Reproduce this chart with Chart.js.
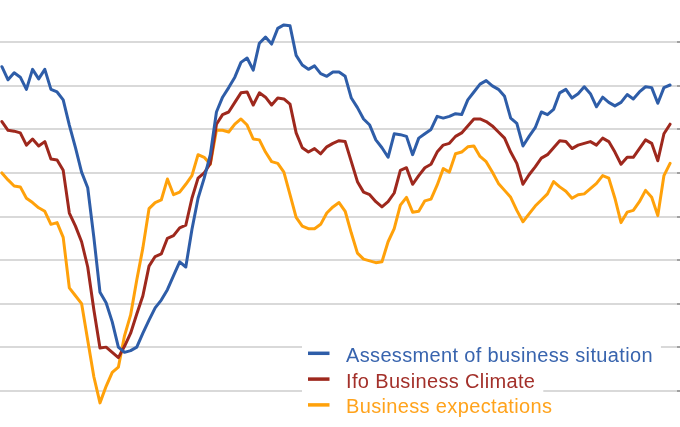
<!DOCTYPE html>
<html>
<head>
<meta charset="utf-8">
<script src="https://cdn.jsdelivr.net/npm/chart.js@4.4.1/dist/chart.umd.min.js"></script>
<style>
  html, body { margin: 0; padding: 0; background: #fff; }
  #wrap { width: 680px; height: 427px; position: relative; }
</style>
</head>
<body>
<div id="wrap"><canvas id="c"></canvas></div>
<script>
// Monthly categories, Aug 2007 .. Sep 2016
const months = [];
(function () {
  let y = 2007, m = 7;
  while (y < 2016 || (y === 2016 && m <= 8)) {
    months.push(y + '-' + String(m + 1).padStart(2, '0'));
    m++; if (m > 11) { m = 0; y++; }
  }
})();

const seriesNames = ['Assessment of business situation', 'Ifo Business Climate', 'Business expectations'];

const situation = [
  117.2,115.7,116.5,116.0,114.6,116.9,115.8,116.9,114.6,114.3,
  113.4,110.5,107.9,105.1,103.3,97.6,91.3,90.1,87.9,85.0,
  84.4,84.6,85.0,86.6,88.1,89.5,90.4,91.6,93.2,94.8,
  94.2,98.5,102.1,104.4,107.1,112.0,113.7,114.8,116.0,117.7,
  118.2,116.8,119.9,120.6,119.8,121.6,122.0,121.9,118.5,117.4,
  116.9,117.3,116.4,116.1,116.6,116.6,116.1,113.6,112.5,111.2,
  110.5,108.8,107.9,106.8,109.5,109.4,109.2,107.1,109.0,109.5,
  110.0,111.5,111.3,111.5,111.8,111.7,113.4,114.3,115.2,115.6,
  115.0,114.6,113.8,111.3,110.7,108.1,109.2,110.2,112.0,111.7,
  112.3,114.2,114.6,113.6,114.1,114.9,114.1,112.6,113.7,113.1,
  112.7,113.1,114.0,113.5,114.3,114.9,114.8,113.0,114.8,115.1
];

const climate = [
  110.9,109.9,109.8,109.6,108.2,108.9,108.1,108.6,106.6,106.5,
  105.3,100.4,98.9,97.1,94.2,89.3,84.9,85.0,84.4,83.8,
  85.1,86.6,88.8,90.9,94.3,95.4,95.7,97.5,97.8,98.7,
  99.0,102.1,104.4,105.0,106.1,110.6,111.7,112.0,113.1,114.2,
  114.3,112.8,114.2,113.7,112.8,113.6,113.5,112.9,109.6,107.9,
  107.4,107.8,107.2,108.0,108.4,108.7,108.6,106.3,104.0,102.8,
  102.5,101.7,101.1,101.7,102.7,105.3,105.6,103.7,104.7,105.6,
  106.0,107.4,108.2,108.4,109.2,109.6,110.4,111.2,111.2,110.9,
  110.4,109.7,109.0,107.4,106.1,103.7,104.8,105.7,106.7,107.1,
  107.9,108.7,108.6,107.8,108.2,108.4,108.6,108.2,109.0,108.6,
  107.4,106.0,106.8,106.8,107.8,108.8,108.4,106.4,109.5,110.6
];

const expectations = [
  105.0,104.2,103.5,103.4,102.1,101.6,101.0,100.6,99.1,99.3,
  97.6,91.8,90.9,90.0,85.8,81.6,78.6,80.5,82.1,82.7,
  86.3,88.7,92.7,96.4,100.9,101.6,101.9,104.3,102.5,102.8,
  103.7,104.7,107.1,106.8,106.0,109.9,109.9,109.7,110.6,111.2,
  110.5,108.9,108.8,107.4,106.3,106.1,105.1,102.5,99.9,98.9,
  98.6,98.6,99.1,100.4,101.1,101.6,100.6,98.1,95.8,95.1,
  94.9,94.7,94.8,97.1,98.6,101.3,102.2,100.5,100.6,101.8,
  102.0,103.6,105.5,105.1,107.2,107.4,108.0,108.1,106.9,106.3,
  105.1,103.8,103.0,102.2,100.7,99.4,100.3,101.2,101.9,102.6,
  104.0,103.4,102.9,102.1,102.5,102.6,103.2,103.8,104.7,104.4,
  102.1,99.3,100.5,100.7,101.7,103.0,102.2,100.1,104.7,106.1
];

const yTicks = [80, 85, 90, 95, 100, 105, 110, 115, 120];

const lineColors = ['#2e5da8', '#9e281d', '#ffa10a'];
const textColors = ['#3864ae', '#a3302a', '#ffa31c'];

const toPts = arr => arr.map((v, i) => ({ x: i, y: v }));

const legendPlugin = {
  id: 'boxLegend',
  afterDraw(chart) {
    const ctx = chart.ctx;
    ctx.save();
    ctx.font = '20px "Liberation Sans", Arial, sans-serif';
    try { ctx.letterSpacing = '0.35px'; } catch (e) {}
    const left = 302, textX = 346, base0 = 361.7, rowH = 25.8;
    // backgrounds
    seriesNames.forEach((name, k) => {
      const base = base0 + k * rowH;
      const w = ctx.measureText(name).width;
      ctx.fillStyle = '#ffffff';
      ctx.fillRect(left, base - 18, textX + w + 8 - left, rowH);
    });
    seriesNames.forEach((name, k) => {
      const base = base0 + k * rowH;
      ctx.strokeStyle = lineColors[k];
      ctx.lineWidth = 3.5;
      ctx.beginPath();
      ctx.moveTo(308, base - 8.4);
      ctx.lineTo(329.5, base - 8.4);
      ctx.stroke();
      ctx.fillStyle = textColors[k];
      ctx.textBaseline = 'alphabetic';
      ctx.textAlign = 'left';
      ctx.fillText(name, textX, base);
    });
    ctx.restore();
  }
};

new Chart(document.getElementById('c'), {
  type: 'line',
  data: {
    labels: months,
    datasets: [
      { label: seriesNames[0], data: toPts(situation), borderColor: lineColors[0] },
      { label: seriesNames[1], data: toPts(climate), borderColor: lineColors[1] },
      { label: seriesNames[2], data: toPts(expectations), borderColor: lineColors[2] }
    ].map(d => Object.assign(d, {
      borderWidth: 3, pointRadius: 0, pointHoverRadius: 0, tension: 0,
      fill: false, borderJoinStyle: 'round', borderCapStyle: 'round'
    }))
  },
  options: {
    responsive: true,
    maintainAspectRatio: false,
    animation: false,
    events: [],
    layout: { padding: 0 },
    plugins: { legend: { display: false }, tooltip: { enabled: false }, title: { display: false } },
    scales: {
      x: {
        type: 'linear',
        display: false,
        min: -0.31,
        max: 110.13
      },
      y: {
        position: 'right',
        min: 75.83,
        max: 124.86,
        afterBuildTicks: s => { s.ticks = yTicks.map(v => ({ value: v })); },
        ticks: { display: false },
        border: { display: false },
        grid: { color: '#d9d9d9', lineWidth: 2, drawTicks: true, tickLength: 3, tickColor: '#808080', tickWidth: 1.5 }
      }
    }
  },
  plugins: [legendPlugin]
});
</script>
</body>
</html>
